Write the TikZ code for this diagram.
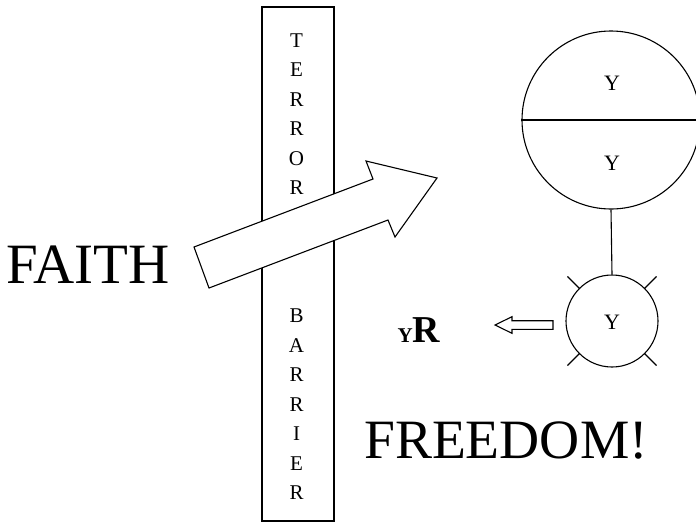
\documentclass[tikz,border=0pt]{standalone}
\usepackage{fontspec}
\setmainfont{Liberation Serif}
\usetikzlibrary{calc}

\begin{document}
\begin{tikzpicture}[x=1pt, y=-1pt, line width=1.1pt,
        letter/.style={font=\fontsize{21}{21}\selectfont, anchor=base},
        ynode/.style={font=\fontsize{22}{22}\selectfont, anchor=base}]
        \useasboundingbox (0,0) rectangle (696,523);

        % barrier
        \draw (262,7) rectangle (334,521);
        \foreach \ch [count=\i] in {T,E,R,R,O,R}
            \node[letter] (t\i) at (296.5, 17.5+29.5*\i) {\ch};
        \foreach \ch [count=\i] in {B,A,R,R,I,E,R}
            \node[letter] (b\i) at (296.5, 293.2+29.5*\i) {\ch};

        % big arrow over the barrier
        \draw[fill=white] (209,288) -- (194,247) -- (373,179) -- (366,161)
            -- (437,178) -- (395,237) -- (388,220) -- cycle;

        \node[anchor=base, font=\fontsize{57}{57}\selectfont] (faith) at (88,283) {FAITH};
        \node[anchor=base, font=\fontsize{55.5}{55.5}\selectfont] (freedom) at (506,458) {FREEDOM!};

        % split circle
        \node[circle, draw, minimum size=178pt, inner sep=0pt] (big) at (611,120) {};
        \draw (big.west) -- (big.east);
        \node[ynode] (ytop) at (612,90) {Y};
        \node[ynode] (ybot) at (612,170.5) {Y};

        % small circle with ticks
        \node[circle, draw, minimum size=92pt, inner sep=0pt] (small) at (612,321) {};
        \node[ynode] (ysmall) at (612,329) {Y};
        \draw (big.south) -- (small.north);
        \foreach \a in {45,135,225,315}
            \draw ($(small.center)+(\a:46)$) -- ($(small.center)+(\a:63)$);

        % small open arrow
        \draw (553,320.7) -- (512,320.7) -- (512,316.7) -- (495,325)
            -- (512,333.3) -- (512,329.3) -- (553,329.3) -- cycle;
        \node[anchor=base west, inner sep=0pt] (yr) at (397,342)
            {\fontsize{21}{21}\selectfont\bfseries Y\fontsize{38}{38}\selectfont R};
\end{tikzpicture}
\end{document}
